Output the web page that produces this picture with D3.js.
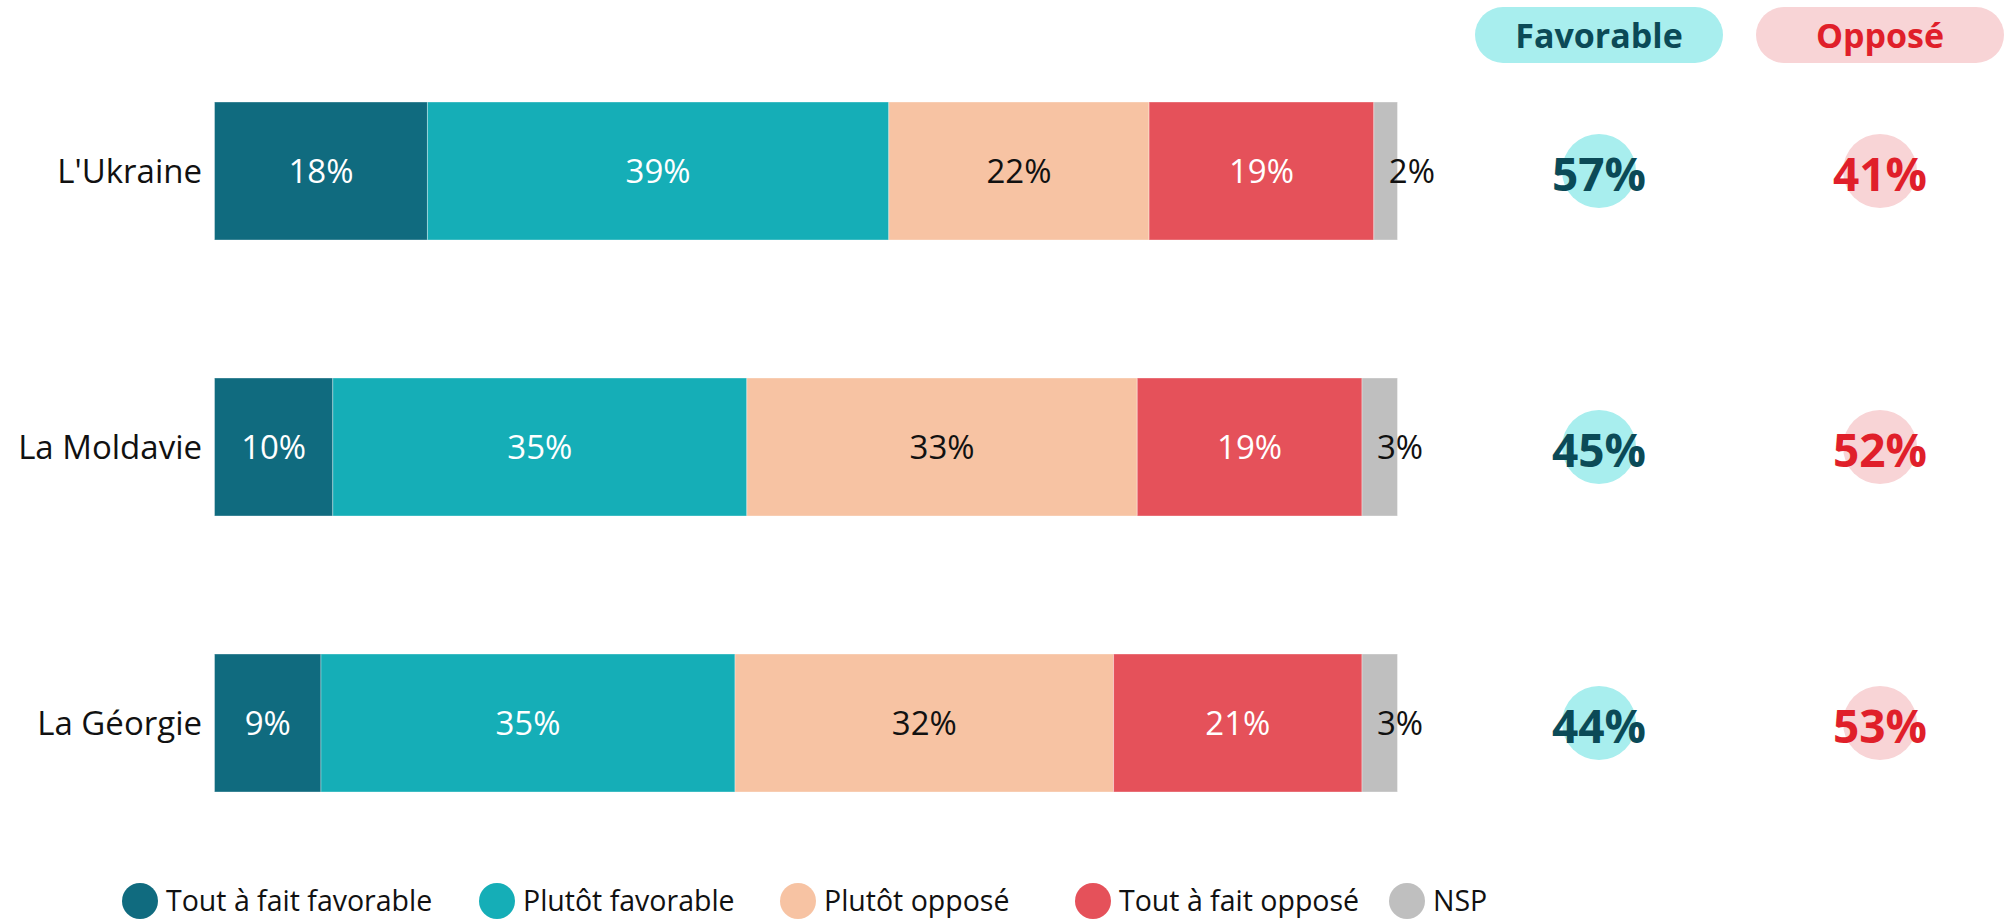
<!DOCTYPE html>
<html>
<head>
<meta charset="utf-8">
<script src="https://cdn.jsdelivr.net/npm/d3@7"></script>
<style>
  html, body { margin: 0; padding: 0; background: #fff; }
  svg { display: block; font-family: "Open Sans", sans-serif; }
</style>
</head>
<body>
<div id="chart"></div>
<script>
// data
const countries = ["L'Ukraine", "La Moldavie", "La Géorgie"];
const answers = ["Tout à fait favorable", "Plutôt favorable", "Plutôt opposé", "Tout à fait opposé", "NSP"];
const toutFavorable = [18, 10, 9];
const plutotFavorable = [39, 35, 35];
const plutotOppose = [22, 33, 32];
const toutOppose = [19, 19, 21];
const nsp = [2, 3, 3];
const totalFavorable = [57, 45, 44];
const totalOppose = [41, 52, 53];
const summaryHeaders = ["Favorable", "Opposé"];

const colors = ['#106b7f', '#15aeb7', '#f7c3a3', '#e5515a', '#bfbfbf'];
const labelColors = ['#fff', '#fff', '#111', '#fff', '#111'];

const width = 2012, height = 921;

const svg = d3.select('#chart')
  .append('svg')
  .attr('width', width)
  .attr('height', height);

// scales
const x = d3.scaleLinear().domain([0, 100]).range([214.5, 1397.5]);
const y = d3.scaleBand()
  .domain(countries)
  .range([33, 861])
  .paddingInner(0.5)
  .paddingOuter(0.25);

const rows = countries.map((c, i) => {
  const vals = [toutFavorable[i], plutotFavorable[i], plutotOppose[i], toutOppose[i], nsp[i]];
  let acc = 0;
  return {
    country: c,
    segs: vals.map((v, k) => {
      const s = { key: k, v, x0: acc, x1: acc + v };
      acc += v;
      return s;
    })
  };
});

// category labels
svg.append('g')
  .selectAll('text')
  .data(countries)
  .join('text')
  .attr('x', 202)
  .attr('y', d => y(d) + y.bandwidth() / 2)
  .attr('dy', '0.36em')
  .attr('text-anchor', 'end')
  .attr('font-size', 33)
  .attr('fill', '#111')
  .text(d => d);

// bars
const rowG = svg.append('g')
  .selectAll('g')
  .data(rows)
  .join('g')
  .attr('transform', d => `translate(0,${y(d.country)})`);

rowG.selectAll('rect')
  .data(d => d.segs)
  .join('rect')
  .attr('x', d => x(d.x0))
  .attr('width', d => x(d.x1) - x(d.x0))
  .attr('height', y.bandwidth())
  .attr('fill', d => colors[d.key])
  .attr('stroke', 'rgba(255,255,255,0.35)')
  .attr('stroke-width', 1);

rowG.selectAll('text')
  .data(d => d.segs)
  .join('text')
  .attr('x', d => d.key === 4 ? x(d.x0) + 15 : (x(d.x0) + x(d.x1)) / 2)
  .attr('y', y.bandwidth() / 2)
  .attr('dy', '0.36em')
  .attr('text-anchor', d => d.key === 4 ? 'start' : 'middle')
  .attr('font-size', 33)
  .attr('fill', d => labelColors[d.key])
  .text(d => d.v + '%');

// summary columns
const colX = d3.scalePoint().domain(summaryHeaders).range([1599, 1880]);
const pillFill = { 'Favorable': '#a8eeee', 'Opposé': '#f8d4d6' };
const textFill = { 'Favorable': '#0b4a57', 'Opposé': '#e01f2a' };

const head = svg.append('g')
  .selectAll('g')
  .data(summaryHeaders)
  .join('g')
  .attr('transform', d => `translate(${colX(d)},35)`);

head.append('rect')
  .attr('x', -124)
  .attr('y', -28)
  .attr('width', 248)
  .attr('height', 56)
  .attr('rx', 28)
  .attr('fill', d => pillFill[d]);

head.append('text')
  .attr('text-anchor', 'middle')
  .attr('y', 1)
  .attr('dy', '0.36em')
  .attr('font-size', 34)
  .attr('font-weight', 700)
  .attr('fill', d => textFill[d])
  .text(d => d);

const totals = [];
countries.forEach((c, i) => {
  totals.push({ country: c, col: 'Favorable', v: totalFavorable[i] });
  totals.push({ country: c, col: 'Opposé', v: totalOppose[i] });
});

const tot = svg.append('g')
  .selectAll('g')
  .data(totals)
  .join('g')
  .attr('transform', d => `translate(${colX(d.col)},${y(d.country) + y.bandwidth() / 2})`);

tot.append('circle')
  .attr('r', 37)
  .attr('fill', d => pillFill[d.col]);

tot.append('text')
  .attr('text-anchor', 'middle')
  .attr('y', 3)
  .attr('dy', '0.36em')
  .attr('font-size', 46)
  .attr('font-weight', 700)
  .attr('fill', d => textFill[d.col])
  .text(d => d.v + '%');

// legend (item centres follow the original layout)
const legendX = [140, 497, 798, 1093, 1407];
const legend = svg.append('g').attr('transform', 'translate(0,901)');
answers.forEach((a, k) => {
  const g = legend.append('g').attr('transform', `translate(${legendX[k]},0)`);
  g.append('circle').attr('r', 18).attr('fill', colors[k]);
  g.append('text')
    .attr('x', 26)
    .attr('dy', '0.36em')
    .attr('font-size', 28.5)
    .attr('fill', '#111')
    .text(a);
});
</script>
</body>
</html>
